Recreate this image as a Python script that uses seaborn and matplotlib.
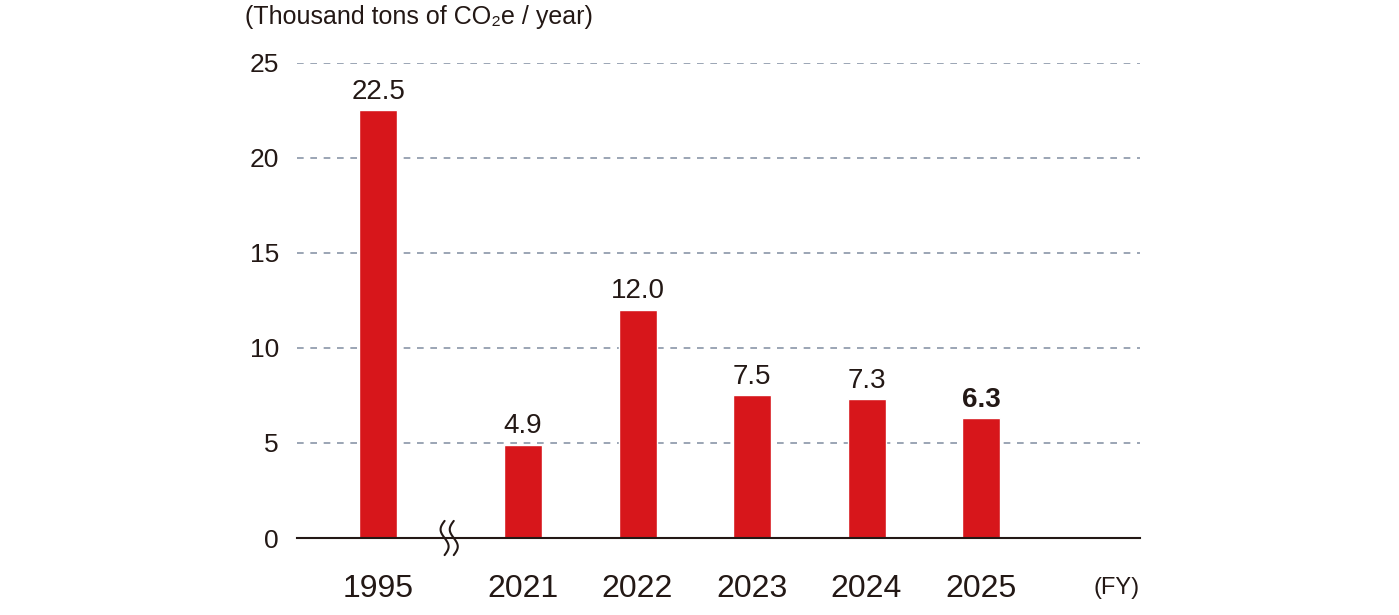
import numpy as np
import pandas as pd
import matplotlib.pyplot as plt
import seaborn as sns

years = ['1995', '2021', '2022', '2023', '2024', '2025']
emissions = [22.5, 4.9, 12.0, 7.5, 7.3, 6.3]
value_labels = ['22.5', '4.9', '12.0', '7.5', '7.3', '6.3']
y_ticks = [0, 5, 10, 15, 20, 25]

# layout: 1995 sits a bit further left, with an axis break before 2021
x_pos = [-0.266, 1, 2, 3, 4, 5]

df = pd.DataFrame({'pos': x_pos, 'year': years, 'value': emissions})

sns.set_style('white')
plt.rcParams['font.family'] = ['Liberation Sans', 'DejaVu Sans']

red = '#d7161b'
ink = '#231815'

fig = plt.figure(figsize=(13.99, 6.15), dpi=100)
ax = fig.add_axes([0.2123, 0.1252, 0.6026, 0.7724])

sns.barplot(data=df, x='pos', y='value', native_scale=True, color=red,
            width=0.332, saturation=1, ax=ax, zorder=3)

ax.set_xlim(-0.974, 6.389)
ax.set_ylim(0, 25)
ax.set_yticks(y_ticks)
ax.set_yticklabels([str(t) for t in y_ticks], fontsize=19, color=ink)
ax.set_xticks(x_pos)
ax.set_xticklabels(years, fontsize=23, color=ink)
ax.tick_params(axis='both', length=0)
ax.tick_params(axis='y', pad=13)
ax.tick_params(axis='x', pad=26)
ax.set_xlabel('')
ax.set_ylabel('')

for t in y_ticks[1:]:
    ax.axhline(t, color='#8a96a8', lw=1.2, ls=(0, (4, 4)), zorder=1)

for s in ['top', 'right', 'left']:
    ax.spines[s].set_visible(False)
ax.spines['bottom'].set_color(ink)
ax.spines['bottom'].set_linewidth(1.5)
ax.spines['bottom'].set_zorder(4)

for i, (p, v, lab) in enumerate(zip(x_pos, emissions, value_labels)):
    bold = i == len(emissions) - 1
    ax.text(p, v + 0.3, lab, ha='center', va='bottom', fontsize=20,
            color=ink, fontweight='bold' if bold else 'normal')

# axis break squiggles
tt = np.linspace(-1, 1, 60)
for dx in (-0.045, 0.035):
    xs = 0.36 + dx + 0.035 * np.sin(tt * np.pi)
    ys = -tt * 0.9
    ax.plot(xs, ys, color=ink, lw=1.5, clip_on=False, zorder=5)

fig.text(245 / 1399, 1 - 17 / 615, '(Thousand tons of CO\u2082e / year)',
         fontsize=18, color=ink, ha='left', va='center')
fig.text(1140 / 1399, 1 - 588 / 615, '(FY)', fontsize=17, color=ink,
         ha='right', va='center')

fig.savefig('out.png', dpi=100)
